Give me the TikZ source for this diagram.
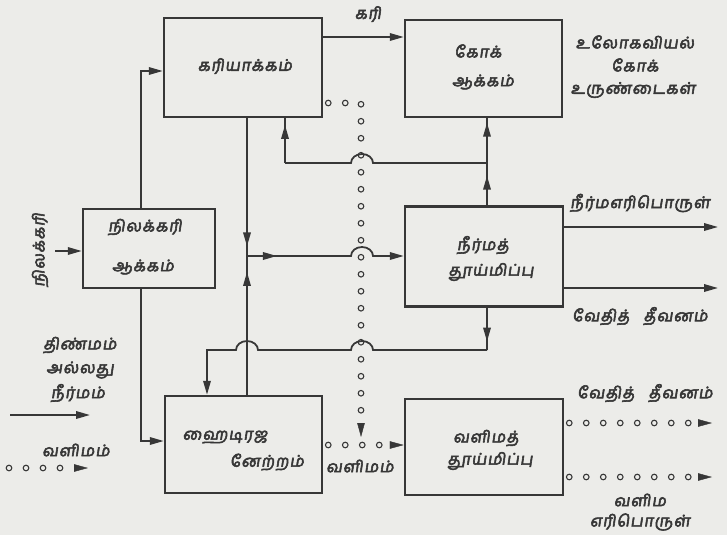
\documentclass[tikz,border=0pt]{standalone}
\usepackage{fontspec}
\newfontfamily\ta[Script=Tamil,FakeSlant=0.15,FakeBold=3.5,LetterSpace=6]{Hind Madurai}
\usetikzlibrary{arrows.meta,decorations.markings}
\definecolor{bg}{RGB}{236,236,233}
\definecolor{ink}{RGB}{55,55,55}
\begin{document}
\begin{tikzpicture}[x=1pt,y=-1pt,
  box/.style={draw=ink,line width=2.5pt,inner sep=0pt},
  txt/.style={font=\ta\fontsize{16}{19}\selectfont,text=ink,inner sep=0pt},
  conn/.style={draw=ink,color=ink,line width=1.8pt},
  tipend/.style={-{Triangle[length=14pt,width=7.5pt]}},
  midtip/.style={postaction={decorate},decoration={markings,mark=at position #1 with {\arrow{Triangle[length=14pt,width=7.5pt]}}}},
  gasline/.style={postaction={decorate},decoration={markings,
     mark=between positions 5pt and -16pt step 17pt with {\draw[ink,line width=1.1pt,fill=bg] (0,0) circle (2.8pt);},
     mark=at position 1 with {\arrow[ink]{Triangle[length=14pt,width=7.5pt]}}}}
]
\fill[bg] (0,0) rectangle (727,535);
\useasboundingbox (0,0) rectangle (727,535);

% boxes
\node[box,minimum width=158pt,minimum height=99pt] (carb) at (243,67.5) {};
\node[box,minimum width=157pt,minimum height=97pt] (coke) at (483.5,68.5) {};
\node[box,minimum width=132pt,minimum height=79pt] (coal) at (149,248.5) {};
\node[box,minimum width=158pt,minimum height=100pt] (liq) at (484,256.5) {};
\node[box,minimum width=157pt,minimum height=97pt] (hyd) at (243.5,444.5) {};
\node[box,minimum width=158pt,minimum height=96pt] (gaspur) at (484,447) {};

% box texts
\node[txt] (t1) at (245,66) {கரியாக்கம்};
\node[txt] (t2a) at (478,51) {கோக்};
\node[txt] (t2b) at (483,82) {ஆக்கம்};
\node[txt] (t3a) at (145,227) {நிலக்கரி};
\node[txt] (t3b) at (143,267) {ஆக்கம்};
\node[txt] (t4a) at (483,245) {நீர்மத்};
\node[txt] (t4b) at (491,272) {தூய்மிப்பு};
\node[txt] (t5a) at (225,437) {ஹைடிரஜ};
\node[txt] (t5b) at (267,462) {னேற்றம்};
\node[txt] (t6a) at (486,438) {வளிமத்};
\node[txt] (t6b) at (490,461) {தூய்மிப்பு};

% coordinates
\coordinate (j1) at (247,256);
\coordinate (j2) at (487,163);
\coordinate (k1) at (285,163);
\coordinate (k2) at (487,350);
\coordinate (k3) at (207,350);
\coordinate (gj) at (361,437);
\coordinate (o1) at (718,227);
\coordinate (o2) at (718,288);
\coordinate (o3) at (712,423);
\coordinate (o4) at (712,477);
\coordinate (cin) at (55,251);
\coordinate (l1) at (10,415);
\coordinate (l2) at (90,415);
\coordinate (l3) at (4,468);
\coordinate (l4) at (88,468);

% gas lines
\path[gasline] (carb.east |- 0,103) -| (gj);
\path[gasline] (hyd.east |- 0,445) -- (gaspur.west |- 0,445);
\path[gasline] (gaspur.east |- 0,423) -- (o3);
\path[gasline] (gaspur.east |- 0,477) -- (o4);
\path[gasline] (l3) -- (l4);

% solid connectors
\draw[conn,tipend] (coal.north -| 141,0) |- (carb.west |- 0,71);
\draw[conn,tipend] (coal.south -| 141,0) |- (hyd.west |- 0,441);
\draw[conn,tipend] (carb.east |- 0,37) -- (coke.west |- 0,37);
\draw[conn,midtip=0.93] (carb.south -| j1) -- (j1);
\draw[conn,midtip=0.885] (hyd.north -| j1) -- (j1);
\draw[conn,tipend,midtip=0.18] (j1) -- (351,256) arc[start angle=180,end angle=0,x radius=11pt,y radius=9pt] -- (liq.west |- j1);
\draw[conn,midtip=0.7] (liq.north -| j2) -- (j2);
\draw[conn,midtip=0.9] (j2) -- (coke.south -| j2);
\draw[conn] (j2) -- (373,163) arc[start angle=0,end angle=180,x radius=11pt,y radius=9pt] -- (k1);
\draw[conn,midtip=0.85] (k1) -- (carb.south -| k1);
\draw[conn,midtip=0.8] (liq.south -| k2) -- (k2);
\draw[conn,tipend] (k2) -- (373,350) arc[start angle=0,end angle=180,x radius=11pt,y radius=9pt] -- (258,350) arc[start angle=0,end angle=180,x radius=11pt,y radius=9pt] -- (k3) -- (hyd.north -| k3);
\draw[conn,tipend] (liq.east |- o1) -- (o1);
\draw[conn,tipend] (liq.east |- o2) -- (o2);
\draw[conn,tipend] (cin) -- (coal.west |- cin);
\draw[conn,tipend] (l1) -- (l2);

% labels
\node[txt] (lk) at (368,14) {கரி};
\node[txt] (lm1) at (635,42) {உலோகவியல்};
\node[txt] (lm2) at (635,65) {கோக்};
\node[txt] (lm3) at (633,90) {உருண்டைகள்};
\node[txt] (lf1) at (640,203) {நீர்மஎரிபொருள்};
\node[txt] (lf2) at (640,316) {வேதித்\hspace{14pt}தீவனம்};
\node[txt] (lg1) at (645,393) {வேதித்\hspace{14pt}தீவனம்};
\node[txt] (lg2) at (640,500) {வளிம};
\node[txt] (lg3) at (640,522) {எரிபொருள்};
\node[txt] (lgm) at (360,466) {வளிமம்};
\node[txt,rotate=90] (tcoal) at (40,250) {நிலக்கரி};
\node[txt] (le1) at (80,345) {திண்மம்};
\node[txt] (le2) at (80,370) {அல்லது};
\node[txt] (le3) at (78,393) {நீர்மம்};
\node[txt] (le4) at (76,450) {வளிமம்};
\end{tikzpicture}
\end{document}
